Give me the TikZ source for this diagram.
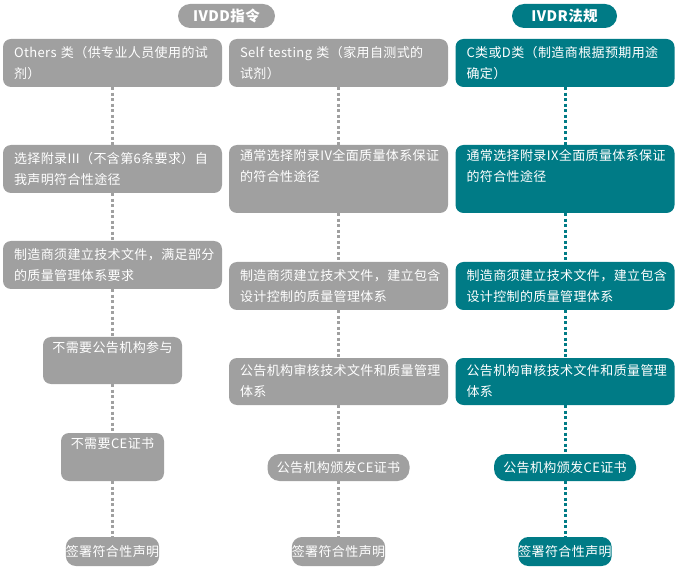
\documentclass[tikz,border=0pt]{standalone}
\usepackage{fontspec}
\setmainfont{Noto Sans CJK SC}[LetterSpace=3]
\definecolor{boxgray}{RGB}{160,160,160}
\definecolor{teal}{RGB}{0,123,134}
\tikzset{
  x=1pt,y=-1pt,
  base/.style={rounded corners=8pt, inner sep=0pt, text=white,
    font=\fontsize{13}{21}\selectfont},
  graybox/.style={base, fill=boxgray},
  tealbox/.style={base, fill=teal},
  wide/.style={minimum width=219pt, text width=197pt, align=left},
  pill/.style={rounded corners=12pt, inner sep=0pt, text=white,
    font=\fontsize{14.5}{16}\selectfont\bfseries, minimum height=24pt},
  link/.style={line width=3pt, dash pattern=on 3pt off 2.5pt},
  graylink/.style={link, draw=boxgray},
  teallink/.style={link, draw=teal},
}
\begin{document}
\begin{tikzpicture}
\useasboundingbox (0,0) rectangle (678,572);
% headers
\node[pill, fill=boxgray, minimum width=97pt] (h1) at (226.5,16) {IVDD指令};
\node[pill, fill=teal, minimum width=105pt] (h2) at (564.5,16) {IVDR法规};
% column 1
\node[graybox, wide, minimum height=48pt] (a1) at (112.5,63) {Others 类（供专业人员使用的试\\剂）};
\node[graybox, wide, minimum height=48pt] (a2) at (112.5,169) {选择附录III（不含第6条要求）自\\我声明符合性途径};
\node[graybox, wide, minimum height=48pt] (a3) at (112.5,265) {制造商须建立技术文件，满足部分\\的质量管理体系要求};
\node[graybox, minimum width=139pt, minimum height=47pt, align=center] (a4) at (112.5,360.5) {不需要公告机构参与\\\strut};
\node[graybox, minimum width=103pt, minimum height=48pt, align=center] (a5) at (112.5,457) {不需要CE证书\\\strut};
\node[graybox, rounded corners=10pt, minimum width=92pt, minimum height=29pt] (a6) at (112.5,551.5) {签署符合性声明};
% column 2
\node[graybox, wide, minimum height=48pt] (b1) at (338.5,63) {Self testing 类（家用自测式的\\试剂）};
\node[graybox, wide, minimum height=68pt] (b2) at (338.5,179) {通常选择附录IV全面质量体系保证\\的符合性途径\\\strut};
\node[graybox, wide, minimum height=48pt] (b3) at (338.5,286) {制造商须建立技术文件，建立包含\\设计控制的质量管理体系};
\node[graybox, wide, minimum height=47pt] (b4) at (338.5,381.5) {公告机构审核技术文件和质量管理\\体系};
\node[graybox, rounded corners=12pt, minimum width=142pt, minimum height=27pt] (b5) at (338.5,467.5) {公告机构颁发CE证书};
\node[graybox, rounded corners=10pt, minimum width=92pt, minimum height=29pt] (b6) at (338.5,551.5) {签署符合性声明};
% column 3
\node[tealbox, wide, minimum height=48pt] (c1) at (565,63) {C类或D类（制造商根据预期用途\\确定）};
\node[tealbox, wide, minimum height=68pt] (c2) at (565,179) {通常选择附录IX全面质量体系保证\\的符合性途径\\\strut};
\node[tealbox, wide, minimum height=48pt] (c3) at (565,286) {制造商须建立技术文件，建立包含\\设计控制的质量管理体系};
\node[tealbox, wide, minimum height=47pt] (c4) at (565,381.5) {公告机构审核技术文件和质量管理\\体系};
\node[tealbox, rounded corners=12pt, minimum width=142pt, minimum height=27pt] (c5) at (565,467.5) {公告机构颁发CE证书};
\node[tealbox, rounded corners=10pt, minimum width=92pt, minimum height=29pt] (c6) at (565,551.5) {签署符合性声明};
% connectors
\foreach \p/\q in {a1/a2,a2/a3,a3/a4,a4/a5,a5/a6,b1/b2,b2/b3,b3/b4,b4/b5,b5/b6}
  \draw[graylink] (\p.south) -- (\q.north);
\foreach \p/\q in {c1/c2,c2/c3,c3/c4,c4/c5,c5/c6}
  \draw[teallink] (\p.south) -- (\q.north);
\end{tikzpicture}
\end{document}
